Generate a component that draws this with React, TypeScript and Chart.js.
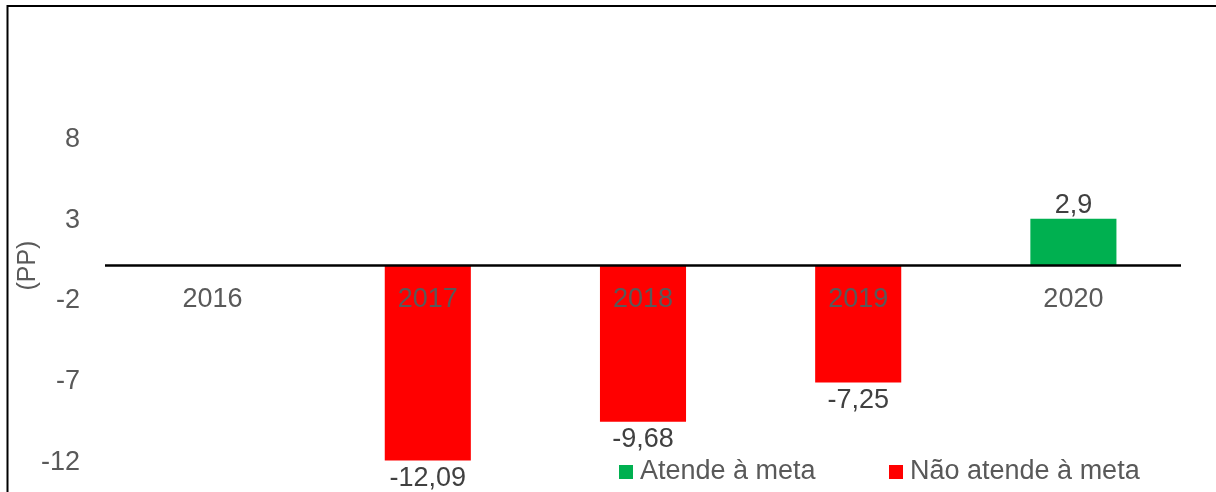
import React, { useEffect, useRef } from "react";
import { Chart, registerables } from "chart.js";

Chart.register(...registerables);

const categories = ["2016", "2017", "2018", "2019", "2020"];
const meetsTarget: (number | null)[] = [null, null, null, null, 2.9];
const missesTarget: (number | null)[] = [null, -12.09, -9.68, -7.25, null];
const yTickValues = [8, 3, -2, -7, -12];
const legendLabels = ["Atende à meta", "Não atende à meta"];
const yTitle = "(PP)";

const GREEN = "#00B050";
const RED = "#FF0000";
const FONT = '"Liberation Sans", Arial, sans-serif';

const fmt = (v: number) => String(v).replace(".", ",");

const decorPlugin = {
  id: "decor",
  afterDatasetsDraw(chart: any) {
    const { ctx, chartArea, scales } = chart;
    const x = scales.x;
    const y = scales.y;
    const zeroY = y.getPixelForValue(0);
    ctx.save();

    // zero line
    ctx.strokeStyle = "#000000";
    ctx.lineWidth = 2.5;
    ctx.beginPath();
    ctx.moveTo(chartArea.left, zeroY);
    ctx.lineTo(chartArea.right, zeroY);
    ctx.stroke();

    // category labels
    ctx.font = `27px ${FONT}`;
    ctx.fillStyle = "#595959";
    ctx.textAlign = "center";
    ctx.textBaseline = "middle";
    categories.forEach((c, i) => {
      ctx.fillText(c, x.getPixelForValue(i), zeroY + 34);
    });

    // y tick labels
    ctx.textAlign = "right";
    yTickValues.forEach((v) => {
      ctx.fillText(String(v), 80, y.getPixelForValue(v) + 3);
    });

    // y title
    ctx.save();
    ctx.translate(28, zeroY);
    ctx.rotate(-Math.PI / 2);
    ctx.textAlign = "center";
    ctx.font = `25px ${FONT}`;
    ctx.fillText(yTitle, 0, 0);
    ctx.restore();

    // data labels
    ctx.font = `27px ${FONT}`;
    ctx.fillStyle = "#404040";
    ctx.textAlign = "center";
    chart.data.datasets.forEach((ds: any, di: number) => {
      const meta = chart.getDatasetMeta(di);
      meta.data.forEach((el: any, i: number) => {
        const v = ds.data[i];
        if (v === null || v === undefined) return;
        const ty = v >= 0 ? el.y - 13 : el.y + 18;
        ctx.fillText(fmt(v), el.x, ty);
      });
    });

    // legend
    const legendPos = [
      { box: 619, text: 640 },
      { box: 889, text: 910 },
    ];
    const ly = 472;
    chart.data.datasets.forEach((ds: any, di: number) => {
      const p = legendPos[di];
      ctx.fillStyle = ds.backgroundColor;
      ctx.fillRect(p.box, ly - 7, 14, 14);
      ctx.fillStyle = "#595959";
      ctx.textAlign = "left";
      ctx.font = `27px ${FONT}`;
      ctx.fillText(ds.label, p.text, ly);
    });

    // frame
    ctx.strokeStyle = "#000000";
    ctx.lineWidth = 2;
    ctx.beginPath();
    ctx.moveTo(7.5, chart.height);
    ctx.lineTo(7.5, 6);
    ctx.lineTo(chart.width, 6);
    ctx.stroke();

    ctx.restore();
  },
};

export default function App() {
  const ref = useRef<HTMLCanvasElement | null>(null);
  useEffect(() => {
    if (!ref.current) return;
    const chart = new Chart(ref.current, {
      type: "bar",
      data: {
        labels: categories,
        datasets: [
          {
            label: legendLabels[0],
            data: meetsTarget,
            backgroundColor: GREEN,
            barPercentage: 0.4,
            categoryPercentage: 1,
            grouped: false,
          } as any,
          {
            label: legendLabels[1],
            data: missesTarget,
            backgroundColor: RED,
            barPercentage: 0.4,
            categoryPercentage: 1,
            grouped: false,
          } as any,
        ],
      },
      options: {
        animation: false,
        responsive: false,
        maintainAspectRatio: false,
        layout: { padding: { left: 105, right: 35, top: 56, bottom: 0 } },
        plugins: {
          legend: { display: false },
          tooltip: { enabled: false },
          title: { display: false },
        },
        scales: {
          x: { display: false, grid: { display: false } },
          y: {
            display: false,
            min: -14.04,
            max: 13,
            grid: { display: false },
          },
        },
      },
      plugins: [decorPlugin],
    });
    return () => chart.destroy();
  }, []);

  return (
    <div style={{ position: "absolute", left: 0, top: 0, width: 1216, height: 492, background: "#ffffff" }}>
      <canvas ref={ref} width={1216} height={492} style={{ display: "block" }} />
    </div>
  );
}
